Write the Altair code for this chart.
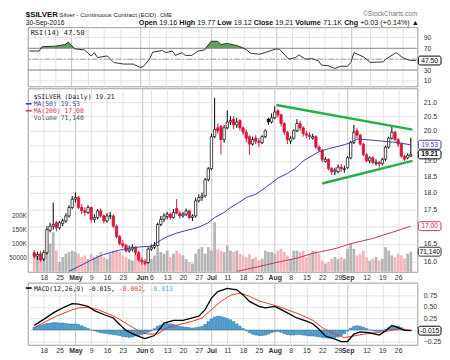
import altair as alt
import numpy as np
import pandas as pd

N = 120
W = 395
H_RSI, H_PRICE, H_MACD = 60, 186, 63

# ---------------- axis ticks / labels ----------------
tick_idx = [3, 8, 13, 18, 23, 28, 34, 37, 42, 47, 52, 56, 61, 66, 71, 76, 81, 86, 91, 96, 99, 105, 110, 115]
tick_lab = ["18", "25", "May", "9", "16", "23", "Jun", "6", "13", "20", "27", "Jul", "11", "18", "25",
            "Aug", "8", "15", "22", "29", "Sep", "12", "19", "26"]
month_idx = [13, 34, 56, 76, 99]
price_ticks = [16.0, 16.5, 17.0, 17.5, 18.0, 18.5, 19.0, 19.5, 20.0, 20.5, 21.0]
vol_ticks = [50000, 100000, 150000, 200000]
rsi_ticks = [10, 30, 50, 70, 90]
macd_ticks = [-0.25, 0.0, 0.25, 0.5, 0.75]

# ---------------- daily OHLC ----------------
opens = [16.25, 16.15, 16.22, 16.08, 16.25, 16.88, 17.00, 17.10, 16.95, 17.08,
         17.15, 17.30, 17.55, 17.80, 17.85, 17.55, 17.45, 17.40, 17.55, 17.20,
         17.25, 17.45, 17.30, 17.15, 17.30, 17.30, 17.00, 16.70, 16.50, 16.45,
         16.30, 16.35, 16.40, 16.25, 16.05, 16.00, 15.98, 16.35, 16.40, 16.45,
         17.05, 17.20, 17.28, 17.35, 17.25, 17.52, 17.38, 17.30, 17.35, 17.45,
         17.25, 17.30, 17.75, 17.85, 17.90, 18.40, 18.75, 19.80, 20.10, 20.15,
         19.70, 20.10, 20.30, 20.40, 20.20, 20.35, 20.10, 19.95, 19.80, 19.55,
         19.75, 19.65, 19.60, 19.80, 20.40, 20.30, 20.45, 20.70, 20.55, 20.25,
         19.95, 19.65, 19.75, 20.00, 20.25, 20.10, 19.90, 19.85, 19.75, 19.80,
         19.45, 19.35, 18.98, 19.05, 18.75, 18.65, 18.65, 18.80, 18.72, 18.78,
         19.10, 19.60, 20.00, 19.85, 19.55, 19.20, 19.00, 19.10, 18.92, 18.95,
         18.92, 19.05, 19.45, 19.75, 19.95, 19.70, 19.55, 19.15, 19.10, 19.16]
highs = [16.32, 16.28, 16.30, 16.32, 17.00, 17.10, 17.70, 17.15, 17.15, 17.22,
         17.38, 17.62, 17.90, 18.00, 17.90, 17.65, 17.55, 17.62, 17.58, 17.35,
         17.50, 17.52, 17.35, 17.38, 17.42, 17.35, 17.05, 16.75, 16.60, 16.50,
         16.45, 16.48, 16.42, 16.30, 16.12, 16.08, 16.40, 16.48, 16.55, 17.10,
         17.30, 17.38, 17.42, 17.40, 17.50, 17.80, 17.45, 17.42, 17.52, 17.48,
         17.35, 17.85, 17.95, 18.00, 18.45, 18.80, 19.90, 21.15, 20.25, 20.20,
         20.20, 20.70, 20.50, 20.50, 20.45, 20.40, 20.15, 20.05, 19.85, 19.80,
         19.85, 19.75, 19.85, 20.05, 20.45, 20.60, 20.85, 20.75, 20.60, 20.30,
         20.00, 19.82, 20.05, 20.40, 20.35, 20.15, 20.00, 19.95, 19.90, 19.85,
         19.50, 19.40, 19.12, 19.08, 18.80, 18.78, 18.88, 18.90, 18.85, 19.15,
         19.65, 20.20, 20.10, 19.90, 19.60, 19.25, 19.15, 19.15, 19.05, 19.00,
         19.10, 19.50, 19.80, 20.15, 20.00, 19.75, 19.60, 19.20, 19.25, 19.77]
lows = [16.08, 16.05, 16.00, 16.02, 16.20, 16.82, 16.90, 16.85, 16.90, 17.00,
        17.10, 17.25, 17.50, 17.70, 17.50, 17.35, 17.30, 17.35, 17.10, 17.10,
        17.20, 17.25, 17.08, 17.10, 17.20, 16.95, 16.65, 16.45, 16.38, 16.25,
        16.25, 16.28, 16.18, 16.00, 15.92, 15.90, 15.95, 16.30, 16.35, 16.42,
        17.00, 17.12, 17.20, 17.18, 17.22, 17.35, 17.22, 17.25, 17.30, 17.20,
        17.15, 17.25, 17.70, 17.75, 17.85, 18.35, 18.70, 19.75, 19.90, 19.20,
        19.60, 20.05, 20.20, 20.05, 20.10, 20.00, 19.85, 19.60, 19.20, 19.50,
        19.55, 19.45, 19.55, 19.75, 20.20, 20.25, 20.40, 20.45, 20.15, 19.85,
        19.55, 19.55, 19.70, 19.95, 20.00, 19.80, 19.75, 19.70, 19.70, 19.40,
        19.30, 18.95, 18.95, 18.70, 18.55, 18.55, 18.60, 18.65, 18.62, 18.75,
        19.05, 19.55, 19.75, 19.50, 19.15, 18.95, 18.92, 18.88, 18.85, 18.78,
        18.85, 19.00, 19.40, 19.70, 19.65, 19.45, 19.10, 19.00, 19.05, 19.12]
closes = [16.15, 16.20, 16.05, 16.25, 16.90, 17.00, 17.05, 16.95, 17.10, 17.15,
          17.30, 17.55, 17.80, 17.85, 17.55, 17.45, 17.40, 17.55, 17.20, 17.25,
          17.45, 17.30, 17.15, 17.30, 17.30, 17.00, 16.70, 16.50, 16.45, 16.30,
          16.35, 16.40, 16.25, 16.05, 16.00, 15.95, 16.35, 16.40, 16.45, 17.05,
          17.20, 17.30, 17.35, 17.25, 17.40, 17.38, 17.30, 17.35, 17.45, 17.25,
          17.30, 17.75, 17.85, 17.90, 18.40, 18.75, 19.80, 20.05, 20.00, 19.70,
          20.10, 20.30, 20.35, 20.20, 20.30, 20.10, 19.95, 19.75, 19.55, 19.70,
          19.65, 19.60, 19.80, 20.00, 20.30, 20.45, 20.65, 20.55, 20.25, 19.95,
          19.70, 19.75, 20.00, 20.25, 20.10, 19.90, 19.85, 19.80, 19.80, 19.45,
          19.35, 19.05, 19.05, 18.75, 18.65, 18.70, 18.80, 18.75, 18.75, 19.10,
          19.60, 19.95, 19.85, 19.55, 19.20, 19.00, 19.10, 18.95, 18.95, 18.90,
          19.05, 19.45, 19.75, 19.95, 19.70, 19.55, 19.15, 19.05, 19.18, 19.21]
volume_k = [64, 52, 58, 45, 75, 100, 140, 75, 35, 52,
            64, 70, 75, 70, 64, 52, 58, 45, 64, 52,
            58, 70, 52, 45, 64, 75, 75, 70, 58, 52,
            45, 40, 64, 58, 29, 40, 75, 45, 58, 87,
            70, 64, 75, 52, 64, 75, 64, 58, 45, 35,
            29, 64, 81, 87, 64, 87, 75, 175, 81, 75,
            70, 93, 75, 70, 75, 64, 58, 52, 64, 46,
            52, 40, 46, 75, 70, 70, 64, 75, 81, 70,
            58, 46, 75, 75, 70, 75, 52, 64, 75, 75,
            64, 40, 29, 35, 46, 52, 46, 52, 46, 81,
            101, 81, 58, 64, 75, 52, 40, 46, 52, 40,
            46, 87, 75, 58, 52, 64, 58, 46, 64, 71.14]

# ---------------- overlays ----------------
ma50_idx = [11, 14, 17, 20, 22, 26, 29, 32, 35, 37, 40, 42, 45, 47, 50, 52, 55, 57, 60, 62, 65, 67,
            70, 73, 75, 77, 80, 83, 85, 88, 90, 93, 95, 98, 100, 102, 105, 108, 110, 113, 115, 117, 119]
ma50_val = [15.74, 15.87, 16.0, 16.13, 16.2, 16.3, 16.36, 16.4, 16.42, 16.43, 16.6, 16.7, 16.8, 16.85,
            16.92, 16.97, 17.1, 17.25, 17.4, 17.55, 17.72, 17.85, 17.95, 18.15, 18.3, 18.45, 18.6, 18.8,
            19.0, 19.18, 19.3, 19.4, 19.45, 19.53, 19.6, 19.72, 19.7, 19.67, 19.65, 19.62, 19.6, 19.56, 19.53]
ma200_idx = [64, 70, 76, 83, 88, 95, 100, 107, 113, 119]
ma200_val = [15.74, 15.85, 15.97, 16.1, 16.23, 16.36, 16.5, 16.65, 16.82, 17.0]
trend_grp = ["upper", "upper", "lower", "lower"]
trend_idx = [76.5, 119.5, 91.0, 119.5]
trend_val = [20.9, 20.04, 18.28, 19.0]

rsi_idx = [0, 3, 4, 8, 11, 12, 14, 17, 19, 20, 21, 24, 26, 29, 32, 34, 35, 37, 38, 41,
           42, 44, 45, 47, 48, 50, 52, 54, 56, 58, 59, 61, 64, 67, 68, 71, 73, 76, 77, 80,
           82, 83, 85, 87, 89, 90, 92, 94, 96, 98, 99, 100, 103, 105, 109, 110, 113, 115, 117, 119]
rsi_val = [65, 65, 73, 74, 77, 81.5, 69, 67, 56, 62, 53, 56, 44, 41, 41, 35, 36, 50, 63, 66,
           62, 65, 57, 62, 57, 57, 65, 67, 83, 83, 77, 79, 75, 67, 61, 59, 63, 69, 68, 50,
           53, 58, 50, 51, 47, 39, 38, 33, 37, 37, 44, 62, 54, 44, 45, 51, 62, 53, 48, 47.5]

macd_idx = [0, 3, 6, 9, 12, 14, 17, 19, 22, 25, 27, 29, 31, 33, 35, 38, 40, 41, 44, 47,
            50, 52, 54, 56, 58, 61, 64, 66, 68, 71, 73, 76, 77, 80, 83, 86, 88, 90, 92, 95,
            97, 99, 101, 103, 106, 109, 111, 113, 115, 117, 119]
macd_val = [0.10, 0.23, 0.37, 0.48, 0.57, 0.56, 0.51, 0.42, 0.335, 0.26, 0.12, -0.01, -0.08, -0.14,
            -0.185, -0.12, 0.05, 0.15, 0.21, 0.21, 0.26, 0.30, 0.44, 0.69, 0.83, 0.90, 0.87, 0.76,
            0.62, 0.51, 0.48, 0.51, 0.48, 0.37, 0.26, 0.19, 0.135, 0.015, -0.13, -0.20, -0.25, -0.25,
            -0.09, -0.04, -0.06, -0.11, -0.02, 0.10, 0.05, -0.01, -0.015]
sig_idx = [0, 3, 7, 11, 14, 17, 20, 24, 27, 30, 33, 36, 39, 42, 46, 50, 53, 56, 59, 62,
           65, 68, 71, 74, 77, 80, 84, 88, 91, 95, 98, 101, 104, 108, 112, 115, 119]
sig_val = [0.05, 0.16, 0.30, 0.41, 0.48, 0.49, 0.44, 0.335, 0.23, 0.10, -0.02, -0.09, -0.085, 0.05,
           0.12, 0.19, 0.26, 0.44, 0.62, 0.75, 0.80, 0.73, 0.63, 0.57, 0.51, 0.44, 0.335, 0.21, 0.05,
           -0.09, -0.165, -0.13, -0.09, -0.06, -0.02, 0.02, -0.002]
hist_val = [0.06, 0.08, 0.10, 0.12, 0.14, 0.15, 0.16, 0.16, 0.15, 0.15,
            0.14, 0.13, 0.13, 0.13, 0.12, 0.09, 0.06, 0.03, 0.00, -0.02,
            -0.04, -0.06, -0.07, -0.08, -0.09, -0.10, -0.11, -0.12, -0.14, -0.15,
            -0.16, -0.15, -0.13, -0.12, -0.10, -0.08, -0.05, -0.02, 0.03, 0.08,
            0.11, 0.13, 0.14, 0.13, 0.12, 0.10, 0.08, 0.07, 0.06, 0.05,
            0.04, 0.05, 0.06, 0.08, 0.12, 0.18, 0.24, 0.28, 0.30, 0.29,
            0.27, 0.25, 0.22, 0.18, 0.13, 0.08, 0.03, -0.02, -0.06, -0.09,
            -0.11, -0.12, -0.12, -0.11, -0.09, -0.06, -0.04, -0.03, -0.05, -0.08,
            -0.10, -0.11, -0.11, -0.10, -0.10, -0.11, -0.12, -0.13, -0.13, -0.14,
            -0.15, -0.16, -0.17, -0.18, -0.18, -0.17, -0.15, -0.12, -0.08, -0.02,
            0.04, 0.08, 0.09, 0.08, 0.06, 0.03, 0.00, -0.02, -0.03, -0.03,
            -0.02, 0.01, 0.05, 0.08, 0.09, 0.08, 0.05, 0.02, 0.00, -0.013]

# ---------------- styling ----------------
RED = "#d8163c"
BLACK = "#000000"
GRAY_VOL = "#b6b6b6"
PINK_VOL = "#f4b6bd"
MA50_C = "#3f3fa0"
MA200_C = "#cc3355"
GREEN_T = "#1fb24a"
RSI_FILL = "#64a064"
HIST_FILL = "#4ea6d6"
HIST_STROKE = "#22679c"
SIG_C = "#e8372c"
MACD_BLUE = "#4aa8d8"
GRID = "#e3e3e3"
GRID_M = "#c4c4c4"
LAB = "#333333"
MONO = "DejaVu Sans Mono"
SANS = "Liberation Sans"

# ---------------- tables ----------------
df = pd.DataFrame({"i": range(N), "open": opens, "high": highs, "low": lows, "close": closes,
                   "vol": [v * 1000 for v in volume_k], "h": hist_val})
prev_close = df["close"].shift(1).fillna(df["open"])
down = df["close"] < prev_close
df["col"] = np.where(down, RED, BLACK)
df["fill"] = np.where(df["close"] < df["open"], df["col"], "#ffffff")
df["vcol"] = np.where(down, PINK_VOL, GRAY_VOL)

ma50_df = pd.DataFrame({"i": ma50_idx, "ma": ma50_val})
ma200_df = pd.DataFrame({"i": ma200_idx, "ma": ma200_val})
trend_df = pd.DataFrame({"g": trend_grp, "i": trend_idx, "p": trend_val})
rsi_df = pd.DataFrame({"i": rsi_idx, "rsi": rsi_val})
macd_df = pd.DataFrame({"i": macd_idx, "m": macd_val})
sig_df = pd.DataFrame({"i": sig_idx, "s": sig_val})
ONE = pd.DataFrame({"k": [0]})

LABEL_EXPR = ("[" + ",".join(repr(s) for s in tick_lab) + "][indexof(["
              + ",".join(str(v) for v in tick_idx) + "], datum.value)]")
MONTH_TEST = "indexof([" + ",".join(str(v) for v in month_idx) + "], datum.value) >= 0"
GRID_COND = {"condition": {"test": MONTH_TEST, "value": GRID_M}, "value": GRID}
BOLD_COND = {"condition": {"test": MONTH_TEST, "value": "bold"}, "value": "normal"}


def x_enc(show):
    return alt.X("i:Q", scale=alt.Scale(domain=[-0.5, N - 0.5], nice=False, zero=False),
                 axis=alt.Axis(values=tick_idx, labelExpr=LABEL_EXPR, labels=show, ticks=False,
                               domain=False, grid=True, gridColor=GRID_COND, labelOverlap=False,
                               labelFlush=False, labelFontSize=7, labelFont=SANS, labelColor=LAB,
                               labelPadding=2, labelFontWeight=BOLD_COND, title=None))


def right_axis(values, label_expr):
    # labels that sit under a value box are left blank (the box shows the value)
    return alt.Axis(orient="right", values=values, ticks=False, domain=False, grid=True,
                    gridColor=GRID, labelPadding=6, labelFontSize=7, labelFont=SANS,
                    labelColor=LAB, title=None, labelExpr=label_expr)


DUMMY_AXIS = alt.Axis(orient="left", labels=False, ticks=False, domain=False, grid=False,
                      title=None, minExtent=19, maxExtent=19)


def txt(t, px, py, size=7.0, color=LAB, font=SANS, weight="normal", align="left"):
    return alt.Chart(ONE).mark_text(text=t, align=align, baseline="alphabetic", fontSize=size,
                                    font=font, fontWeight=weight, color=color).encode(
        x=alt.value(px), y=alt.value(py))


def dash(x1, x2, py, color):
    return alt.Chart(ONE).mark_rule(color=color, strokeWidth=1.6).encode(
        x=alt.value(x1), x2=alt.value(x2), y=alt.value(py))


def value_box(vals, texts, stroke, tcolor, yenc_fn, bold=False):
    bdf = pd.DataFrame({"v": vals, "t": texts, "sc": stroke, "tc": tcolor})
    rect = alt.Chart(bdf).mark_rect(cornerRadius=2, fill="white", strokeWidth=1, yOffset=-4.5,
                                    y2Offset=4.5).encode(
        x=alt.value(W + 1), x2=alt.value(W + 24), y=yenc_fn("v:Q"), y2="v:Q",
        stroke=alt.Stroke("sc:N", scale=None))
    lab = alt.Chart(bdf).mark_text(fontSize=6.8, font=SANS, align="center", baseline="middle",
                                   fontWeight="bold" if bold else "normal").encode(
        x=alt.value(W + 12.5), y=yenc_fn("v:Q"), text="t:N", color=alt.Color("tc:N", scale=None))
    return [rect, lab]


# ---------------- header text (mixed weights) ----------------
NW = {".": .278, " ": .278, "+": .584, "(": .333, ")": .333, "%": .889, "K": .667, "▲": .77}
BW = {"O": .778, "p": .611, "e": .556, "n": .611, "H": .722, "i": .278, "g": .611, "h": .611,
      "L": .611, "o": .611, "w": .778, "C": .722, "l": .278, "s": .556, "V": .667, "u": .611, "m": .889}
info_segments = [("Open", True), ("19.16", False), ("High", True), ("19.77", False), ("Low", True),
                 ("19.12", False), ("Close", True), ("19.21", False), ("Volume", True), ("71.1K", False),
                 ("Chg", True), ("+0.03 (+0.14%) ▲", False)]
INFO_FS = 7.3


def seg_w(s, bold):
    tbl = BW if bold else NW
    return sum(tbl.get(ch, NW.get(ch, .556)) for ch in s) * INFO_FS


gap = .278 * INFO_FS
total = sum(seg_w(s, b) for s, b in info_segments) + gap * (len(info_segments) - 1)
cursor = W - total
header = []
for s, b in info_segments:
    header.append(txt(s, cursor, -1.8, size=INFO_FS, color="#111", weight="bold" if b else "normal"))
    cursor += seg_w(s, b) + gap

header += [
    txt("$SILVER", -2, -10, size=8, color="#111", weight="bold"),
    txt("Silver - Continuous Contract (EOD)", 32, -10, size=6.3, color="#222"),
    txt("CME", 134, -10, size=5.5, color="#222"),
    txt("©StockCharts.com", W, -11.5, size=6.6, color="#777", align="right"),
    txt("30-Sep-2016", -2, -1.8, size=6.8, color="#111"),
]

# ---------------- RSI panel ----------------
XR = x_enc(False)
RSI_DOM = [0, 109]
rsi_scale = alt.Scale(domain=RSI_DOM, nice=False, zero=False)
rsi_axis = right_axis(rsi_ticks, "datum.value == 50 ? '' : datum.label")


def ry(f):
    return alt.Y(f, scale=rsi_scale, axis=rsi_axis)


rsi_fill = alt.Chart(rsi_df).transform_calculate(top="max(datum.rsi, 70)", base="70").mark_area(
    color=RSI_FILL, opacity=1).encode(x=XR, y=ry("top:Q"), y2="base:Q")
rsi_levels = alt.Chart(pd.DataFrame({"v": [30, 70]})).mark_rule(color="#8c8c8c", strokeWidth=1).encode(
    y=ry("v:Q"))
rsi_mid = alt.Chart(pd.DataFrame({"v": [50]})).mark_rule(
    color="#8c8c8c", strokeWidth=0.8, strokeDash=[6, 2, 2, 2]).encode(y=ry("v:Q"))
rsi_line = alt.Chart(rsi_df).mark_line(color="#333333", strokeWidth=1).encode(x=XR, y=ry("rsi:Q"))
rsi_dummy = alt.Chart(rsi_df).mark_point(opacity=0, size=1).encode(
    x=XR, y=alt.Y("rsi:Q", scale=alt.Scale(domain=RSI_DOM), axis=DUMMY_AXIS))

rsi_main = alt.layer(rsi_fill, rsi_levels, rsi_mid, rsi_line,
                     *value_box([47.5], ["47.50"], ["#000000"], ["#000000"], ry),
                     txt("RSI(14) 47.50", 3, 8, size=7, font=MONO, color="#111"),
                     *header)
rsi_chart = alt.layer(rsi_dummy, rsi_main).resolve_scale(y="independent").properties(
    width=W, height=H_RSI)

# ---------------- price panel ----------------
XP = x_enc(True)
pscale = alt.Scale(type="log", domain=[15.73, 21.5], nice=False, zero=False)
p_axis = right_axis(price_ticks,
                    "(datum.value == 17 || datum.value == 19.5) ? '' : format(datum.value, '.1f')")
vscale = alt.Scale(domain=[0, 650000], nice=False, zero=False)
v_axis = alt.Axis(orient="left", values=vol_ticks,
                  labelExpr="datum.value >= 100000 ? (datum.value / 1000) + 'K' : '' + datum.value",
                  grid=False, ticks=False, domain=False, labelFontSize=6.4, labelPadding=1.5,
                  labelFont=SANS, labelColor=LAB, minExtent=19, maxExtent=19, title=None)


def py(f):
    return alt.Y(f, scale=pscale, axis=p_axis)


def vy(f):
    return alt.Y(f, scale=vscale, axis=v_axis)


base = alt.Chart(df)
vol_bars = base.mark_bar(size=2.8).encode(x=XP, y=vy("vol:Q"), color=alt.Color("vcol:N", scale=None))
vol_group = alt.layer(vol_bars, *value_box([71140], ["71,140"], ["#333333"], ["#000000"], vy))

wicks = base.mark_rule(strokeWidth=1).encode(x=XP, y=py("low:Q"), y2="high:Q",
                                             color=alt.Color("col:N", scale=None))
bodies = base.mark_bar(size=2.4, strokeWidth=0.7).encode(
    x=XP, y=py("open:Q"), y2="close:Q", fill=alt.Fill("fill:N", scale=None),
    stroke=alt.Stroke("col:N", scale=None))
ma50 = alt.Chart(ma50_df).mark_line(color=MA50_C, strokeWidth=1, clip=True).encode(x=XP, y=py("ma:Q"))
ma200 = alt.Chart(ma200_df).mark_line(color=MA200_C, strokeWidth=1, clip=True).encode(x=XP, y=py("ma:Q"))
trend = alt.Chart(trend_df).mark_line(color=GREEN_T, strokeWidth=2.5).encode(
    x=XP, y=py("p:Q"), detail="g:N")

price_group = alt.layer(
    wicks, bodies, ma50, ma200, trend,
    *value_box([19.53, 17.00], ["19.53", "17.00"], [MA50_C, MA200_C], [MA50_C, MA200_C], py),
    *value_box([19.21], ["19.21"], ["#000000"], ["#000000"], py, bold=True),
    txt("$SILVER (Daily) 19.21", 6, 10.5, size=6.5, font=MONO, color="#111"),
    dash(-2, 4, 15.7, MA50_C),
    txt("MA(50) 19.53", 6, 18, size=6.5, font=MONO, color=MA50_C),
    dash(-2, 4, 22.7, MA200_C),
    txt("MA(200) 17.00", 6, 25, size=6.5, font=MONO, color=MA200_C),
    txt("Volume 71,140", 6, 32, size=6.5, font=MONO, color="#555555"),
)
price_chart = alt.layer(vol_group, price_group).resolve_scale(y="independent").properties(
    width=W, height=H_PRICE)

# ---------------- MACD panel ----------------
XM = x_enc(True)
MACD_DOM = [-0.32, 1.026]
mscale = alt.Scale(domain=MACD_DOM, nice=False, zero=False)
m_axis = right_axis(macd_ticks, "datum.value == 0 ? '' : format(datum.value, '.2f')")


def my(f):
    return alt.Y(f, scale=mscale, axis=m_axis)


hist = base.mark_bar(size=2.6, fill=HIST_FILL, stroke=HIST_STROKE, strokeWidth=0.5).encode(
    x=XM, y=my("h:Q"))
macd_line = alt.Chart(macd_df).mark_line(color="#000000", strokeWidth=1.3).encode(x=XM, y=my("m:Q"))
sig_line = alt.Chart(sig_df).mark_line(color=SIG_C, strokeWidth=1).encode(x=XM, y=my("s:Q"))
macd_dummy = alt.Chart(macd_df).mark_point(opacity=0, size=1).encode(
    x=XM, y=alt.Y("m:Q", scale=alt.Scale(domain=MACD_DOM), axis=DUMMY_AXIS))
CW = 0.602 * 6.5
macd_main = alt.layer(
    hist, sig_line, macd_line,
    *value_box([-0.015], ["-0.015"], ["#000000"], ["#000000"], my),
    dash(-2, 4, 5.5, "#000000"),
    txt("MACD(12,26,9) -0.015,", 6.3, 8, size=6.5, font=MONO, color="#222222"),
    txt("-0.002,", 6.3 + 22 * CW, 8, size=6.5, font=MONO, color=SIG_C),
    txt("-0.013", 6.3 + 30 * CW, 8, size=6.5, font=MONO, color=MACD_BLUE),
)
macd_chart = alt.layer(macd_dummy, macd_main).resolve_scale(y="independent").properties(
    width=W, height=H_MACD)

chart = alt.vconcat(rsi_chart, price_chart, macd_chart, spacing=0).properties(
    padding={"left": 0, "top": 0, "right": 0, "bottom": 0}
).configure_view(stroke="#9a9a9a", strokeWidth=1)

chart.save("out.html", embed_options={"renderer": "svg", "actions": False})
